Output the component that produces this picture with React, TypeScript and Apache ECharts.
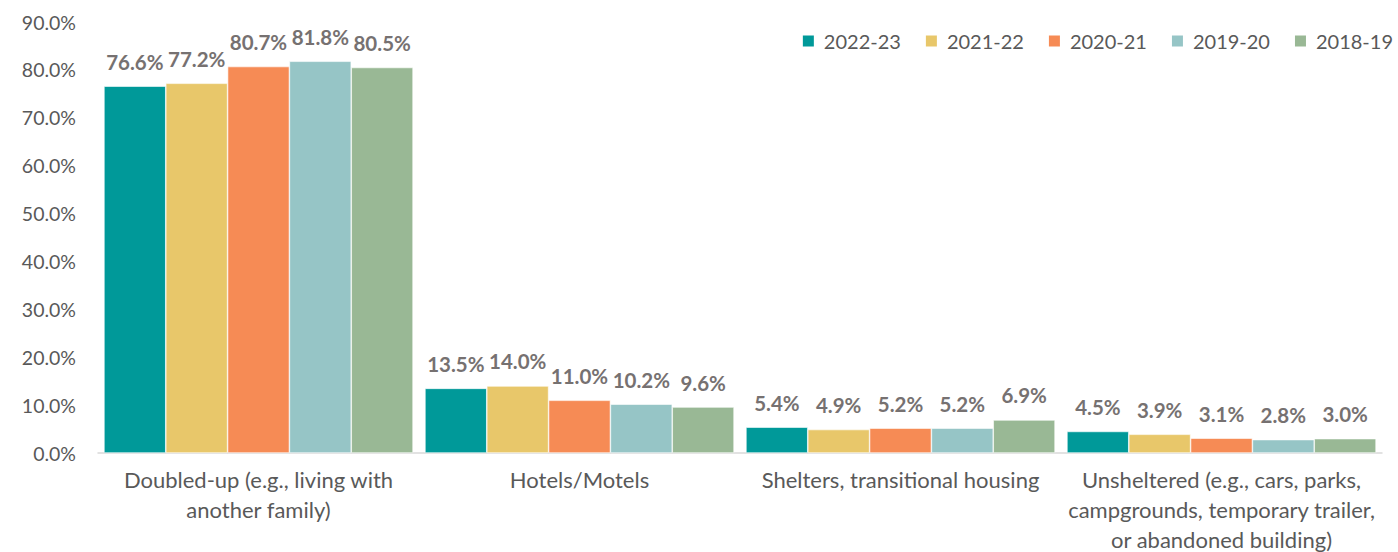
import React, { useEffect, useRef } from "react";
import * as echarts from "echarts";

const categories = [
  "Doubled-up (e.g., living with\nanother family)",
  "Hotels/Motels",
  "Shelters, transitional housing",
  "Unsheltered (e.g., cars, parks,\ncampgrounds, temporary trailer,\nor abandoned building)",
];

const seriesNames = ["2022-23", "2021-22", "2020-21", "2019-20", "2018-19"];
const colors = ["#009999", "#E8C76A", "#F68B55", "#96C5C6", "#99B895"];

const v2022 = [76.6, 13.5, 5.4, 4.5];
const v2021 = [77.2, 14.0, 4.9, 3.9];
const v2020 = [80.7, 11.0, 5.2, 3.1];
const v2019 = [81.8, 10.2, 5.2, 2.8];
const v2018 = [80.5, 9.6, 6.9, 3.0];
const seriesValues = [v2022, v2021, v2020, v2019, v2018];

const yTicks = { min: 0, max: 90, interval: 10 };
const FONT = "Lato, 'Open Sans', sans-serif";

export default function App() {
  const ref = useRef<HTMLDivElement>(null);
  useEffect(() => {
    if (!ref.current) return;
    const chart = echarts.init(ref.current, null, { renderer: "svg" });
    chart.setOption({
      animation: false,
      textStyle: { fontFamily: FONT },
      legend: {
        top: 26,
        right: 0,
        itemWidth: 13,
        itemHeight: 13,
        itemGap: 23,
        icon: "rect",
        textStyle: { fontSize: 20, color: "#595959", fontFamily: FONT, padding: [0, 0, 0, 4] },
        data: seriesNames,
      },
      grid: {
        left: 98,
        right: 16,
        top: 22,
        bottom: 99,
        containLabel: false,
        outerBoundsMode: "none",
      },
      xAxis: {
        type: "category",
        data: categories,
        axisTick: { show: false },
        axisLine: { lineStyle: { color: "#D9D9D9", width: 1.5 } },
        axisLabel: {
          fontSize: 22,
          color: "#595959",
          lineHeight: 30,
          margin: 11,
          interval: 0,
          fontFamily: FONT,
        },
      },
      yAxis: {
        type: "value",
        min: yTicks.min,
        max: yTicks.max,
        interval: yTicks.interval,
        splitLine: { show: false },
        axisLine: { show: false },
        axisTick: { show: false },
        axisLabel: {
          fontSize: 19.5,
          color: "#595959",
          margin: 22,
          fontFamily: FONT,
          formatter: (v: number) => v.toFixed(1) + "%",
        },
      },
      series: seriesNames.map((name, i) => ({
        name,
        type: "bar",
        barGap: "0%",
        barCategoryGap: "3.7%",
        itemStyle: { color: colors[i], borderColor: "#ffffff", borderWidth: 0.6 },
        label: {
          show: true,
          position: "top",
          distance: 14,
          fontSize: 20.5,
          fontWeight: "bold",
          color: "#767171",
          fontFamily: FONT,
          formatter: (p: any) => Number(p.value).toFixed(1) + "%",
        },
        data: seriesValues[i],
      })),
    });
    return () => chart.dispose();
  }, []);
  return (
    <div
      ref={ref}
      style={{ position: "absolute", left: 0, top: 0, width: 1398, height: 552 }}
    />
  );
}
